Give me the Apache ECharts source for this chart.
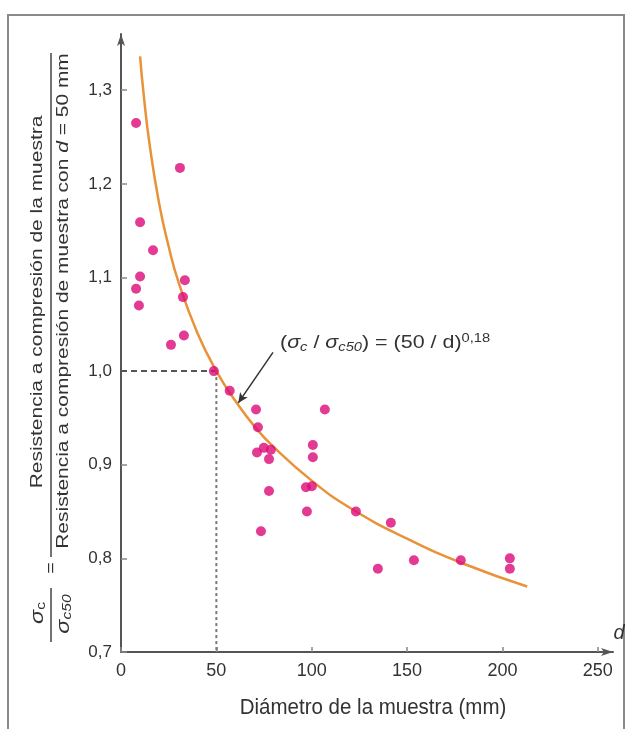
<!DOCTYPE html>
<html>
<head>
<meta charset="utf-8">
<script src="https://cdn.jsdelivr.net/npm/echarts@6/dist/echarts.min.js"></script>
<style>
  html, body { margin: 0; padding: 0; background: #fff; }
  #chart { width: 632px; height: 729px; }
</style>
</head>
<body>
<div id="chart"></div>
<script>
// Measured specimens: diameter d (mm) and strength ratio sigma_c / sigma_c50
const diameters = [7.9, 30.9, 10.0, 16.8, 10.0, 7.9, 9.4, 33.5, 32.5, 33.0, 26.2, 48.7,
                   57.0, 70.8, 106.9, 71.8, 71.3, 74.9, 78.6, 77.6, 100.6, 100.6, 77.6,
                   97.0, 100.1, 97.5, 73.4, 123.2, 141.5, 134.7, 153.6, 178.2, 203.9, 203.9];
const ratios    = [1.265, 1.217, 1.159, 1.129, 1.101, 1.088, 1.070, 1.097, 1.079, 1.038, 1.028, 1.000,
                   0.979, 0.959, 0.959, 0.940, 0.913, 0.918, 0.916, 0.906, 0.921, 0.908, 0.872,
                   0.876, 0.877, 0.850, 0.829, 0.850, 0.838, 0.789, 0.798, 0.798, 0.800, 0.789];

// Fitted curve (sigma_c / sigma_c50) = (50 / d)^0.18
const curveD     = [10, 12, 15, 20, 25, 30, 40, 50, 60, 70, 80, 100, 120, 150, 180, 213];
const curveRatio = [1.336, 1.293, 1.242, 1.179, 1.133, 1.096, 1.041, 1.000, 0.968, 0.941,
                    0.919, 0.883, 0.854, 0.821, 0.794, 0.770];

// Reference point d = 50 mm, ratio = 1.0
const refD = 50;
const refRatio = 1.0;

// Axis ticks
const xTicks = [0, 50, 100, 150, 200, 250];
const yTicks = [0.7, 0.8, 0.9, 1.0, 1.1, 1.2, 1.3];

const FONT = 'Liberation Sans, Arial, sans-serif';
const TEXT = '#333';
const AXIS = '#555';

const chart = echarts.init(document.getElementById('chart'), null, { renderer: 'canvas' });

const points = diameters.map((d, i) => [d, ratios[i]]);
const curve = curveD.map((d, i) => [d, curveRatio[i]]);

const isTick = (list, v) => list.some(t => Math.abs(t - v) < 1e-6);

// rotated title text, stretched along its own direction
function vText(x, y, text, size, stretch, rich) {
  return {
    type: 'text', x: x, y: y, rotation: Math.PI / 2, scaleX: stretch, scaleY: 1,
    style: {
      text: text, font: size + 'px ' + FONT, fill: TEXT,
      align: 'center', verticalAlign: 'middle', rich: rich || {}
    }
  };
}

chart.setOption({
  animation: false,
  backgroundColor: '#fff',
  grid: { left: 121, right: 19, top: 34, bottom: 77 },
  xAxis: {
    type: 'value',
    min: 0, max: 258, interval: 50,
    splitLine: { show: false },
    axisLine: { lineStyle: { color: AXIS, width: 2 }, symbol: ['none', 'arrow'], symbolSize: [6, 12] },
    axisTick: { inside: true, length: 5, lineStyle: { color: '#888', width: 1.5 } },
    axisLabel: {
      margin: 10, color: TEXT, fontFamily: FONT, fontSize: 18,
      showMaxLabel: false,
      formatter: v => isTick(xTicks, v) ? String(v) : ''
    }
  },
  yAxis: {
    type: 'value',
    min: 0.7, max: 1.36, interval: 0.1,
    splitLine: { show: false },
    axisLine: { lineStyle: { color: AXIS, width: 2 }, symbol: ['none', 'arrow'], symbolSize: [6, 12] },
    axisTick: { inside: true, length: 6, lineStyle: { color: '#888', width: 1.5 } },
    axisLabel: {
      margin: 9, color: TEXT, fontFamily: FONT, fontSize: 17,
      showMaxLabel: false,
      formatter: v => isTick(yTicks, v) ? v.toFixed(1).replace('.', ',') : ''
    }
  },
  series: [
    {
      type: 'line',
      data: curve,
      smooth: true,
      showSymbol: false,
      lineStyle: { color: '#e8923a', width: 2.5 },
      z: 2
    },
    {
      type: 'line',
      data: [[0, refRatio], [refD, refRatio]],
      showSymbol: false,
      lineStyle: { color: '#555', width: 2, type: [6, 4] },
      z: 1
    },
    {
      type: 'line',
      data: [[refD, refRatio], [refD, 0.7]],
      showSymbol: false,
      lineStyle: { color: '#777', width: 2, type: [3, 3] },
      z: 1
    },
    {
      type: 'scatter',
      data: points,
      symbolSize: 10,
      itemStyle: { color: '#dc0a78' },
      z: 3,
      markLine: {
        silent: true,
        symbol: ['none', 'arrow'],
        symbolSize: [7, 10],
        label: { show: false },
        lineStyle: { color: '#333', width: 1.5, type: 'solid' },
        data: [[{ coord: [79.7, 1.020] }, { coord: [61.5, 0.966] }]]
      }
    }
  ],
  graphic: [
    // outer frame
    {
      type: 'rect', silent: true,
      shape: { x: 8, y: 15, width: 616, height: 730 },
      style: { fill: 'none', stroke: '#8a8a8a', lineWidth: 2 }
    },
    // y-axis title: ratio definition, rotated
    vText(37, 302, 'Resistencia a compresión de la muestra', 16.5, 1.27),
    {
      type: 'line', silent: true,
      shape: { x1: 51, y1: 53, x2: 51, y2: 557 },
      style: { stroke: '#444', lineWidth: 1.5 }
    },
    vText(63, 301, 'Resistencia a compresión de muestra con {i|d} = 50 mm', 16.5, 1.27,
      { i: { fontStyle: 'italic', fontSize: 16.5, fontFamily: FONT, fill: TEXT } }),
    vText(51, 568, '=', 16.5, 1.2),
    {
      type: 'line', silent: true,
      shape: { x1: 51, y1: 588, x2: 51, y2: 642 },
      style: { stroke: '#444', lineWidth: 1.5 }
    },
    vText(38, 613, '{s|σ}{b|c}', 18, 1.3, {
      s: { fontStyle: 'italic', fontSize: 18, fontFamily: FONT, fill: TEXT },
      b: { fontSize: 12, fontFamily: FONT, fill: TEXT, padding: [8, 0, 0, 0] }
    }),
    vText(64, 614, '{s|σ}{b|c50}', 18, 1.3, {
      s: { fontStyle: 'italic', fontSize: 18, fontFamily: FONT, fill: TEXT },
      b: { fontStyle: 'italic', fontSize: 12, fontFamily: FONT, fill: TEXT, padding: [8, 0, 0, 0] }
    }),
    // x-axis title
    {
      type: 'text', x: 373, y: 708, scaleY: 1.05,
      style: {
        text: 'Diámetro de la muestra (mm)',
        font: '20.5px ' + FONT, fill: TEXT,
        align: 'center', verticalAlign: 'middle'
      }
    },
    {
      type: 'text', x: 619, y: 633,
      style: {
        text: 'd', font: 'italic 20px ' + FONT, fill: TEXT,
        align: 'center', verticalAlign: 'middle'
      }
    },
    // curve equation
    {
      type: 'text', x: 280, y: 343, scaleX: 1.13,
      style: {
        text: '{n|(}{s|σ}{b|c}{n| / }{s|σ}{b|c50}{n|) = (50 / d)}{p|0,18}',
        fill: TEXT, align: 'left', verticalAlign: 'middle',
        rich: {
          n: { fontSize: 19, fontFamily: FONT, fill: TEXT },
          s: { fontSize: 19, fontStyle: 'italic', fontFamily: FONT, fill: TEXT },
          b: { fontSize: 13, fontStyle: 'italic', fontFamily: FONT, fill: TEXT, padding: [9, 0, 0, 0] },
          p: { fontSize: 13, fontFamily: FONT, fill: TEXT, padding: [0, 0, 10, 0] }
        }
      }
    }
  ]
});
</script>
</body>
</html>
